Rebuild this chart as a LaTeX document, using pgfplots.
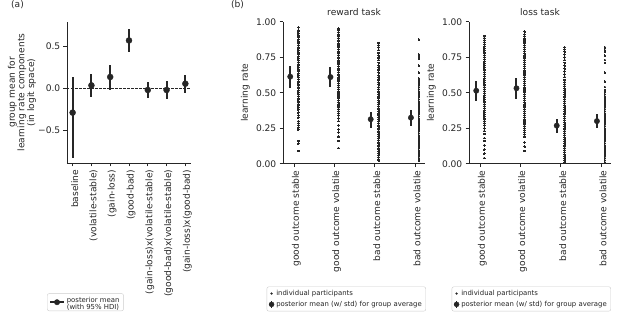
\documentclass[border=0pt]{standalone}
\usepackage{fontspec}
\setmainfont{DejaVu Sans}
\usepackage{pgfplots}
\usepackage{pgfplotstable}
\pgfplotsset{compat=1.18}

\definecolor{ink}{gray}{0.15}

% panel (a): group means with 95% HDI (logit space)
\pgfplotstableread{
x y ep em
0 -0.29 0.43 0.54
1 0.035 0.135 0.135
2 0.135 0.145 0.155
3 0.57 0.14 0.14
4 -0.02 0.10 0.10
5 -0.02 0.11 0.11
6 0.055 0.10 0.105
}\effects

% panel (b): posterior means with std
\pgfplotstableread{
x y ep em
-0.1 0.613 0.075 0.082
0.9 0.610 0.070 0.070
1.9 0.313 0.053 0.064
2.9 0.324 0.054 0.059
}\rewardmeans

\pgfplotstableread{
x y ep em
-0.1 0.514 0.068 0.075
0.9 0.531 0.070 0.073
1.9 0.268 0.049 0.050
2.9 0.300 0.050 0.049
}\lossmeans

\pgfplotsset{
  despined/.style={
    scale only axis,
    axis x line*=bottom, axis y line*=left,
    axis line style={-, ink, line width=0.8pt},
    tick align=outside, major tick length=3.5pt,
    every tick/.style={ink, line width=0.8pt},
    tick label style={ink},
    label style={ink},
    /pgf/number format/assume math mode=true,
    clip=false,
  },
  dots/.style={only marks, mark=*, mark size=0.85pt, ink, mark options={draw=ink, fill=ink, line width=0pt}},
  means/.style={only marks, mark=*, mark size=2.7pt, ink, mark options={draw=ink, fill=ink},
    error bars/y dir=both, error bars/y explicit, error bars/error mark=none},
  blegend/.style={legend style={font=\fontsize{6.9}{7.9}\selectfont, draw=black!20, rounded corners=2pt,
    fill=white, inner xsep=2pt, inner ysep=1.5pt, row sep=0.2pt, legend cell align=left,
    text=ink}},
}

\begin{document}
\fontsize{9.1}{10.9}\selectfont
\begin{tikzpicture}[x=1pt,y=1pt]
\useasboundingbox (0,0) rectangle (617,312);
\node[ink] at (17.5,307.5) {(a)};
\node[ink] at (237.5,307.5) {(b)};

% ---------------- panel (a)
\begin{axis}[despined,
  at={(67pt,149pt)}, anchor=south west,
  width=124pt, height=141pt,
  xmin=-0.3, xmax=6.3, ymin=-0.89, ymax=0.79,
  xtick={0,1,2,3,4,5,6},
  xticklabels={baseline,(volatile-stable),(gain-loss),(good-bad),(gain-loss)x(volatile-stable),(good-bad)x(volatile-stable),(gain-loss)x(good-bad)},
  xticklabel style={rotate=90, anchor=east, yshift=-2pt},
  ytick={-0.5,0,0.5}, yticklabels={−0.5,0.0,0.5},
  ylabel={group mean for\\learning rate components\\(in logit space)},
  ylabel style={align=center, yshift=-4pt, font=\fontsize{9.1}{9.6}\selectfont},
  legend style={at={(-0.161,-1.05)}, anchor=south west,
    font=\fontsize{6.9}{7.9}\selectfont, draw=black!20, rounded corners=2pt,
    fill=white, inner xsep=2pt, inner ysep=1.5pt, legend cell align=left, text=ink},
]
\addplot[dashed, ink, line width=0.6pt, dash pattern=on 2.5pt off 1.5pt, forget plot] coordinates {(-0.3,0) (6.3,0)};
\addplot[means, mark size=3pt, error bars/error bar style={line width=2pt, ink},
  legend image code/.code={\draw[line width=1.6pt, ink] (0pt,0pt) -- (14pt,0pt); \fill[ink] (7pt,0pt) circle (2.7pt);}]
  table[x=x, y=y, y error plus=ep, y error minus=em] {\effects};
\addlegendentry{\begin{tabular}{@{}l@{}}posterior mean\\[-1.5pt](with 95\% HDI)\end{tabular}}
\end{axis}

% ---------------- panel (b) reward task
\begin{axis}[despined, blegend,
  at={(283pt,148.3pt)}, anchor=south west,
  width=142pt, height=142pt,
  xmin=-0.28, xmax=3.25, ymin=0, ymax=1,
  xtick={0,1,2,3},
  xticklabels={good outcome stable,good outcome volatile,bad outcome stable,bad outcome volatile},
  xticklabel style={rotate=90, anchor=east, yshift=-2pt},
  ytick={0,0.25,0.5,0.75,1}, yticklabels={0.00,0.25,0.50,0.75,1.00},
  ylabel={learning rate},
  title={reward task}, title style={ink, yshift=-3pt},
  legend style={at={(-0.115,-1.04)}, anchor=south west},
]
\addplot[dots, legend image code/.code={\fill[ink] (4pt,0pt) circle (0.9pt);}]
  table[x expr=0.1, y=y, row sep=\\] {y\\0.09\\0.14\\0.16\\0.24\\0.255\\0.27\\0.285\\0.30\\0.325\\0.34\\0.36\\0.38\\0.395\\0.41\\0.42\\0.435\\0.45\\0.46\\0.475\\0.49\\0.50\\0.515\\0.53\\0.54\\0.555\\0.57\\0.58\\0.595\\0.61\\0.62\\0.635\\0.65\\0.66\\0.675\\0.69\\0.70\\0.715\\0.73\\0.74\\0.755\\0.77\\0.78\\0.795\\0.81\\0.82\\0.835\\0.85\\0.86\\0.875\\0.89\\0.90\\0.915\\0.93\\0.94\\0.96\\};
\addlegendentry{individual participants}
\addplot[dots, forget plot]
  table[x expr=1.1, y=y, row sep=\\] {y\\0.11\\0.16\\0.19\\0.22\\0.24\\0.27\\0.30\\0.32\\0.34\\0.355\\0.37\\0.385\\0.40\\0.415\\0.43\\0.445\\0.46\\0.47\\0.485\\0.50\\0.51\\0.525\\0.54\\0.55\\0.565\\0.58\\0.59\\0.605\\0.62\\0.63\\0.645\\0.66\\0.67\\0.685\\0.70\\0.71\\0.725\\0.74\\0.75\\0.765\\0.78\\0.79\\0.805\\0.82\\0.83\\0.845\\0.86\\0.87\\0.885\\0.90\\0.91\\0.925\\0.94\\0.95\\};
\addplot[dots, forget plot]
  table[x expr=2.1, y=y, row sep=\\] {y\\0.02\\0.03\\0.045\\0.06\\0.07\\0.085\\0.10\\0.11\\0.125\\0.14\\0.15\\0.165\\0.18\\0.19\\0.205\\0.22\\0.23\\0.245\\0.26\\0.27\\0.285\\0.30\\0.31\\0.325\\0.34\\0.35\\0.365\\0.38\\0.39\\0.405\\0.42\\0.43\\0.445\\0.46\\0.47\\0.485\\0.50\\0.51\\0.525\\0.54\\0.555\\0.57\\0.59\\0.605\\0.62\\0.64\\0.66\\0.675\\0.69\\0.71\\0.73\\0.745\\0.76\\0.78\\0.80\\0.82\\0.835\\0.85\\};
\addplot[dots, forget plot]
  table[x expr=3.1, y=y, row sep=\\] {y\\0.02\\0.03\\0.04\\0.055\\0.07\\0.08\\0.095\\0.11\\0.12\\0.135\\0.15\\0.16\\0.175\\0.19\\0.20\\0.215\\0.23\\0.24\\0.255\\0.27\\0.28\\0.295\\0.31\\0.32\\0.335\\0.35\\0.36\\0.375\\0.39\\0.40\\0.415\\0.43\\0.44\\0.455\\0.47\\0.48\\0.495\\0.51\\0.525\\0.54\\0.555\\0.57\\0.585\\0.60\\0.64\\0.69\\0.74\\0.755\\0.77\\0.875\\};
\addplot[means, error bars/error bar style={line width=2pt, ink},
  legend image code/.code={\draw[line width=1.6pt, ink] (4pt,-3.5pt) -- (4pt,3.5pt); \fill[ink] (4pt,0pt) circle (2.5pt);}]
  table[x=x, y=y, y error plus=ep, y error minus=em] {\rewardmeans};
\addlegendentry{posterior mean (w/ std) for group average}
\end{axis}

% ---------------- panel (b) loss task
\begin{axis}[despined, blegend,
  at={(469pt,148.3pt)}, anchor=south west,
  width=142pt, height=142pt,
  xmin=-0.28, xmax=3.25, ymin=0, ymax=1,
  xtick={0,1,2,3},
  xticklabels={good outcome stable,good outcome volatile,bad outcome stable,bad outcome volatile},
  xticklabel style={rotate=90, anchor=east, yshift=-2pt},
  ytick={0,0.25,0.5,0.75,1}, yticklabels={0.00,0.25,0.50,0.75,1.00},
  ylabel={learning rate},
  title={loss task}, title style={ink, yshift=-3pt},
  legend style={at={(-0.122,-1.04)}, anchor=south west},
]
\addplot[dots, legend image code/.code={\fill[ink] (4pt,0pt) circle (0.9pt);}]
  table[x expr=0.1, y=y, row sep=\\] {y\\0.04\\0.07\\0.10\\0.13\\0.16\\0.18\\0.21\\0.23\\0.25\\0.27\\0.285\\0.30\\0.315\\0.33\\0.345\\0.36\\0.375\\0.39\\0.405\\0.42\\0.435\\0.45\\0.465\\0.48\\0.495\\0.51\\0.525\\0.54\\0.555\\0.57\\0.585\\0.60\\0.615\\0.63\\0.645\\0.66\\0.675\\0.69\\0.705\\0.72\\0.735\\0.75\\0.765\\0.78\\0.795\\0.81\\0.825\\0.84\\0.855\\0.87\\0.885\\0.90\\};
\addlegendentry{individual participants}
\addplot[dots, forget plot]
  table[x expr=1.1, y=y, row sep=\\] {y\\0.09\\0.12\\0.15\\0.19\\0.205\\0.22\\0.235\\0.25\\0.265\\0.28\\0.295\\0.31\\0.325\\0.34\\0.355\\0.37\\0.385\\0.40\\0.415\\0.43\\0.445\\0.46\\0.475\\0.49\\0.505\\0.52\\0.535\\0.55\\0.565\\0.58\\0.595\\0.61\\0.625\\0.64\\0.655\\0.67\\0.685\\0.70\\0.715\\0.73\\0.745\\0.76\\0.775\\0.79\\0.805\\0.82\\0.835\\0.85\\0.865\\0.88\\0.895\\0.91\\0.93\\};
\addplot[dots, forget plot]
  table[x expr=2.1, y=y, row sep=\\] {y\\0.005\\0.02\\0.035\\0.05\\0.065\\0.08\\0.095\\0.11\\0.125\\0.14\\0.155\\0.17\\0.185\\0.20\\0.215\\0.23\\0.245\\0.26\\0.275\\0.29\\0.305\\0.32\\0.335\\0.35\\0.365\\0.38\\0.395\\0.41\\0.425\\0.44\\0.455\\0.47\\0.485\\0.50\\0.515\\0.53\\0.545\\0.56\\0.575\\0.59\\0.61\\0.63\\0.65\\0.67\\0.69\\0.71\\0.73\\0.75\\0.77\\0.79\\0.805\\0.82\\};
\addplot[dots, forget plot]
  table[x expr=3.1, y=y, row sep=\\] {y\\0.01\\0.025\\0.04\\0.055\\0.07\\0.085\\0.10\\0.115\\0.13\\0.145\\0.16\\0.175\\0.19\\0.205\\0.22\\0.235\\0.25\\0.265\\0.28\\0.295\\0.31\\0.325\\0.34\\0.355\\0.37\\0.385\\0.40\\0.415\\0.43\\0.445\\0.46\\0.475\\0.49\\0.505\\0.52\\0.54\\0.58\\0.64\\0.71\\0.73\\0.76\\0.79\\0.80\\0.82\\};
\addplot[means, error bars/error bar style={line width=2pt, ink},
  legend image code/.code={\draw[line width=1.6pt, ink] (4pt,-3.5pt) -- (4pt,3.5pt); \fill[ink] (4pt,0pt) circle (2.5pt);}]
  table[x=x, y=y, y error plus=ep, y error minus=em] {\lossmeans};
\addlegendentry{posterior mean (w/ std) for group average}
\end{axis}
\end{tikzpicture}
\end{document}
